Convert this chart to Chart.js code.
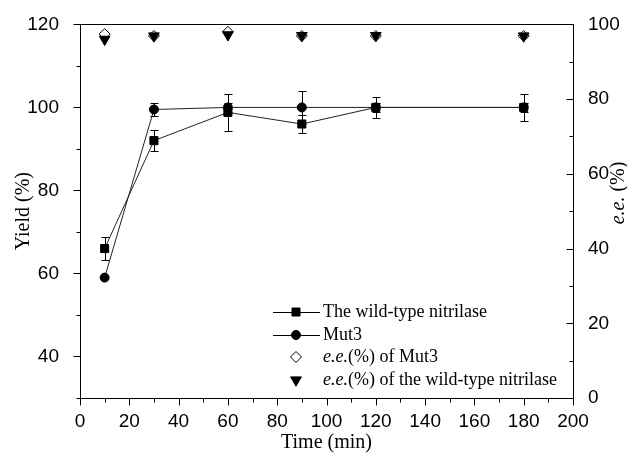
<!DOCTYPE html>
<html>
<head>
<meta charset="utf-8">
<script src="https://cdn.jsdelivr.net/npm/chart.js@4.4.1/dist/chart.umd.min.js"></script>
<style>
  html, body { margin: 0; padding: 0; background: #fff; }
  canvas { display: block; }
</style>
</head>
<body>
<canvas id="chart" width="627" height="459"></canvas>
<script>
// values
const times = [10, 30, 60, 90, 120, 180];
const wildYield = [66, 92, 98.8, 96, 100, 100];
const wildErr = [2.7, 2.6, 4.5, 2.1, 1.0, 1.0];
const mut3Yield = [59, 99.5, 100, 100, 100, 100];
const mut3Err = [0, 1.5, 1.0, 4.0, 2.6, 3.2];
const eeMut3 = [97.4, 96.9, 98.0, 96.9, 96.9, 96.9];
const eeWild = [96.0, 96.9, 97.2, 97.0, 97.0, 96.9];

const xMajor = [0, 20, 40, 60, 80, 100, 120, 140, 160, 180, 200];
const xMinor = [10, 30, 50, 70, 90, 110, 130, 150, 170, 190];
const yieldMajor = [40, 60, 80, 100, 120];
const yieldMinor = [30, 50, 70, 90, 110];
const eeMajor = [0, 20, 40, 60, 80, 100];
const eeMinor = [10, 30, 50, 70, 90];

const legendLabels = [
  { style: 'rect', line: true, parts: [['The wild-type nitrilase', false]] },
  { style: 'circle', line: true, parts: [['Mut3', false]] },
  { style: 'rectRot', line: false, parts: [['e.e.', true], ['(%) of Mut3', false]] },
  { style: 'triangle', line: false, parts: [['e.e.', true], ['(%) of the wild-type nitrilase', false]] }
];

const SERIF = '"Liberation Serif", "Times New Roman", serif';
const SANS = '"Liberation Sans", Arial, sans-serif';

function marker(ctx, style, x, y) {
  ctx.save();
  ctx.lineWidth = 1;
  ctx.strokeStyle = '#000';
  ctx.fillStyle = '#000';
  ctx.beginPath();
  if (style === 'rect') {
    ctx.rect(x - 4, y - 4, 8, 8);
  } else if (style === 'circle') {
    ctx.arc(x, y, 4.5, 0, Math.PI * 2);
  } else if (style === 'rectRot') {
    ctx.fillStyle = '#fff';
    ctx.moveTo(x, y - 5.5); ctx.lineTo(x + 5.5, y); ctx.lineTo(x, y + 5.5); ctx.lineTo(x - 5.5, y);
    ctx.closePath();
  } else {
    ctx.moveTo(x - 5.4, y - 3.1); ctx.lineTo(x + 5.4, y - 3.1); ctx.lineTo(x, y + 6.2);
    ctx.closePath();
  }
  ctx.fill();
  ctx.stroke();
  ctx.restore();
}

function errorBars(ctx, chart, vals, errs) {
  const xs = chart.scales.x, ys = chart.scales.y;
  times.forEach((t, i) => {
    if (!errs[i]) return;
    const px = Math.round(xs.getPixelForValue(t)) + 0.5;
    const top = Math.round(ys.getPixelForValue(vals[i] + errs[i])) + 0.5;
    const bot = Math.round(ys.getPixelForValue(vals[i] - errs[i])) + 0.5;
    ctx.beginPath();
    ctx.moveTo(px, top); ctx.lineTo(px, bot);
    ctx.moveTo(px - 4, top); ctx.lineTo(px + 4, top);
    ctx.moveTo(px - 4, bot); ctx.lineTo(px + 4, bot);
    ctx.stroke();
  });
}

function mixedText(ctx, parts, x, y, size, align) {
  let w = 0;
  parts.forEach(p => { ctx.font = (p[1] ? 'italic ' : '') + size + 'px ' + SERIF; w += ctx.measureText(p[0]).width; });
  let cx = align === 'center' ? x - w / 2 : x;
  parts.forEach(p => {
    ctx.font = (p[1] ? 'italic ' : '') + size + 'px ' + SERIF;
    ctx.fillText(p[0], cx, y);
    cx += ctx.measureText(p[0]).width;
  });
}

const decor = {
  id: 'decor',
  beforeDatasetsDraw(chart) {
    const ctx = chart.ctx;
    ctx.save();
    ctx.strokeStyle = '#000';
    ctx.lineWidth = 1;
    errorBars(ctx, chart, wildYield, wildErr);
    errorBars(ctx, chart, mut3Yield, mut3Err);
    ctx.restore();
  },
  afterDraw(chart) {
    const ctx = chart.ctx;
    const a = chart.chartArea;
    const xs = chart.scales.x, ys = chart.scales.y, y2 = chart.scales.y2;
    const L = Math.round(a.left) + 0.5, R = Math.round(a.right) + 0.5;
    const T = Math.round(a.top) + 0.5, B = Math.round(a.bottom) + 0.5;
    ctx.save();
    ctx.strokeStyle = '#000';
    ctx.lineWidth = 1;
    ctx.strokeRect(L, T, R - L, B - T);

    ctx.beginPath();
    const hx = (v, len) => { const p = Math.round(xs.getPixelForValue(v)) + 0.5; ctx.moveTo(p, B); ctx.lineTo(p, B + len); };
    const hy = (v, len) => { const p = Math.round(ys.getPixelForValue(v)) + 0.5; ctx.moveTo(L, p); ctx.lineTo(L - len, p); };
    const hy2 = (v, len) => { const p = Math.round(y2.getPixelForValue(v)) + 0.5; ctx.moveTo(R, p); ctx.lineTo(R - len, p); };
    xMajor.forEach(v => hx(v, 7));
    xMinor.forEach(v => hx(v, 4));
    yieldMajor.forEach(v => hy(v, 7));
    yieldMinor.forEach(v => hy(v, 4));
    eeMajor.forEach(v => hy2(v, 7));
    eeMinor.forEach(v => hy2(v, 4));
    ctx.stroke();

    // axis titles
    ctx.fillStyle = '#000';
    ctx.textBaseline = 'middle';
    ctx.textAlign = 'left';
    mixedText(ctx, [['Time (min)', false]], (a.left + a.right) / 2, 443, 20, 'center');
    ctx.save();
    ctx.translate(24, (a.top + a.bottom) / 2);
    ctx.rotate(-Math.PI / 2);
    mixedText(ctx, [['Yield (%)', false]], 0, 0, 20, 'center');
    ctx.restore();
    ctx.save();
    ctx.translate(619, 193);
    ctx.rotate(-Math.PI / 2);
    mixedText(ctx, [['e.e.', true], [' (%)', false]], 0, 0, 20, 'center');
    ctx.restore();

    // legend
    const rows = [312, 335, 357, 380];
    legendLabels.forEach((item, i) => {
      const y = rows[i];
      if (item.line) {
        ctx.beginPath();
        ctx.moveTo(273, y + 0.5); ctx.lineTo(320, y + 0.5);
        ctx.stroke();
      }
      marker(ctx, item.style, 296, y);
      ctx.fillStyle = '#000';
      mixedText(ctx, item.parts, 323, y, 18, 'left');
    });
    ctx.restore();
  }
};

const pts = arr => times.map((t, i) => ({ x: t, y: arr[i] }));

new Chart(document.getElementById('chart'), {
  type: 'line',
  data: {
    datasets: [
      {
        label: 'e.e.(%) of the wild-type nitrilase',
        data: pts(eeWild), yAxisID: 'y2', showLine: false,
        pointStyle: 'triangle', rotation: 180, pointRadius: 6.2,
        pointBackgroundColor: '#000', pointBorderColor: '#000', pointBorderWidth: 1
      },
      {
        label: 'e.e.(%) of Mut3',
        data: pts(eeMut3), yAxisID: 'y2', showLine: false,
        pointStyle: 'rectRot', pointRadius: 5.5,
        pointBackgroundColor: '#fff', pointBorderColor: '#000', pointBorderWidth: 1
      },
      {
        label: 'The wild-type nitrilase',
        data: pts(wildYield), yAxisID: 'y',
        borderColor: '#222', borderWidth: 1,
        pointStyle: 'rect', pointRadius: 5.7,
        pointBackgroundColor: '#000', pointBorderColor: '#000', pointBorderWidth: 1
      },
      {
        label: 'Mut3',
        data: pts(mut3Yield), yAxisID: 'y',
        borderColor: '#222', borderWidth: 1,
        pointStyle: 'circle', pointRadius: 4.5,
        pointBackgroundColor: '#000', pointBorderColor: '#000', pointBorderWidth: 1
      }
    ]
  },
  options: {
    responsive: false,
    animation: false,
    layout: { padding: { top: 24, left: 0, right: 0, bottom: 0 } },
    plugins: { legend: { display: false }, tooltip: { enabled: false } },
    scales: {
      x: {
        type: 'linear', min: 0, max: 200,
        grid: { display: false }, border: { display: false },
        afterBuildTicks: s => { s.ticks = xMajor.map(v => ({ value: v })); },
        afterFit: s => { s.height = 61; },
        ticks: { color: '#000', padding: 4, autoSkip: false, maxRotation: 0, font: { family: SANS, size: 19 } }
      },
      y: {
        position: 'left', min: 30, max: 120,
        grid: { display: false }, border: { display: false },
        afterBuildTicks: s => { s.ticks = yieldMajor.map(v => ({ value: v })); },
        afterFit: s => { s.width = 80; },
        ticks: { color: '#000', padding: 13, font: { family: SANS, size: 19 } }
      },
      y2: {
        position: 'right', min: 0, max: 100,
        grid: { display: false }, border: { display: false },
        afterBuildTicks: s => { s.ticks = eeMajor.map(v => ({ value: v })); },
        afterFit: s => { s.width = 54; },
        ticks: { color: '#000', padding: 7, font: { family: SANS, size: 19 } }
      }
    }
  },
  plugins: [decor]
});
</script>
</body>
</html>
